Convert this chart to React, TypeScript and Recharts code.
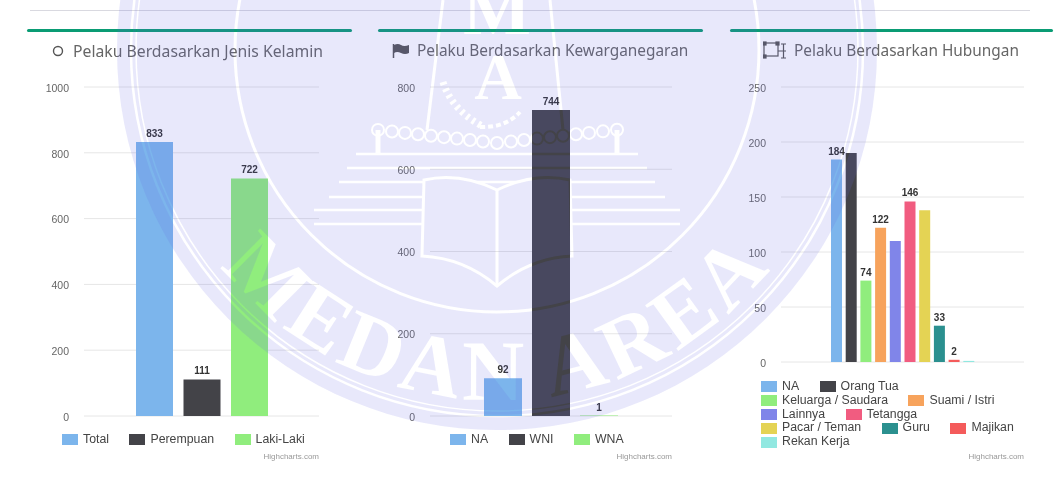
import React from 'react';
import { BarChart, Bar, XAxis, YAxis, CartesianGrid, Legend, LabelList } from 'recharts';

const genderNames = ['Total', 'Perempuan', 'Laki-Laki'];
const genderValues = [833, 111, 722];
const genderColors = ['#7cb5ec', '#434348', '#90ed7d'];
const genderTicks = [0, 200, 400, 600, 800, 1000];
const genderLegend = [['Total', 'Perempuan', 'Laki-Laki']];

const citizenNames = ['NA', 'WNI', 'WNA'];
const citizenValues = [92, 744, 1];
const citizenColors = ['#7cb5ec', '#434348', '#90ed7d'];
const citizenTicks = [0, 200, 400, 600, 800];
const citizenLegend = [['NA', 'WNI', 'WNA']];

const relationNames = ['NA', 'Orang Tua', 'Keluarga / Saudara', 'Suami / Istri', 'Lainnya', 'Tetangga', 'Pacar / Teman', 'Guru', 'Majikan', 'Rekan Kerja'];
const relationValues = [184, 190, 74, 122, 110, 146, 138, 33, 2, 1];
const relationColors = ['#7cb5ec', '#434348', '#90ed7d', '#f7a35c', '#8085e9', '#f15c80', '#e4d354', '#2b908f', '#f45b5b', '#91e8e1'];
const relationTicks = [0, 50, 100, 150, 200, 250];
// only these had room for a label in the original
const relationLabelled = ['NA', 'Keluarga / Saudara', 'Suami / Istri', 'Tetangga', 'Guru', 'Majikan'];
const relationLegend = [
  ['NA', 'Orang Tua'],
  ['Keluarga / Saudara', 'Suami / Istri'],
  ['Lainnya', 'Tetangga'],
  ['Pacar / Teman', 'Guru', 'Majikan'],
  ['Rekan Kerja'],
];

const makeRow = (names: string[], values: number[]) => {
  const row: Record<string, string | number> = { name: 'Pelaku' };
  names.forEach((n, i) => { row[n] = values[i]; });
  return [row];
};

const legendContent = (rows: string[][]) => (props: any) => (
  <div style={{ fontFamily: 'Liberation Sans', fontSize: 12.3, lineHeight: '13.8px', color: '#444' }}>
    {rows.map((row, r) => (
      <div key={r} style={{ display: 'flex', whiteSpace: 'nowrap' }}>
        {row.map((name) => {
          const entry = (props.payload || []).find((p: any) => p.value === name);
          return (
            <span key={name} style={{ display: 'flex', alignItems: 'center', marginRight: 20.5 }}>
              <span style={{ width: 16, height: 11, background: entry ? entry.color : '#ccc', marginRight: 5 }} />
              {name}
            </span>
          );
        })}
      </div>
    ))}
  </div>
);

type PanelProps = {
  left: number;
  width: number;
  yLeft: number;
  yRight: number;
  plotBottom: number;
  names: string[];
  values: number[];
  colors: string[];
  ticks: number[];
  labelled: string[];
  legendRows: string[][];
  legendLeft: number;
  legendTop: number;
  barSize: number;
  barGap: number;
  title: string;
  titleLeft: number;
  titleSize: number;
  icon: React.ReactNode;
};

const Panel = (p: PanelProps) => (
  <>
    <div style={{ position: 'absolute', left: p.left, top: 29, width: p.width, height: 3, borderRadius: 2, background: '#0a9c74' }} />
    <div style={{ position: 'absolute', left: p.titleLeft, top: 41, fontFamily: 'Noto Sans', fontSize: p.titleSize, lineHeight: '20px', color: '#666', whiteSpace: 'nowrap' }}>
      {p.title}
    </div>
    {p.icon}
    <div style={{ position: 'absolute', left: p.left, top: 60 }}>
      <BarChart
        width={p.width}
        height={410}
        data={makeRow(p.names, p.values)}
        margin={{ top: 27, right: p.yRight, bottom: 470 - p.plotBottom, left: 0 }}
        barSize={p.barSize}
        barGap={p.barGap}
      >
        <CartesianGrid vertical={false} stroke="#e6e6e6" />
        <XAxis dataKey="name" tick={false} tickLine={false} height={0} axisLine={{ stroke: '#ccd6eb' }} />
        <YAxis
          width={p.yLeft}
          domain={[0, p.ticks[p.ticks.length - 1]]}
          ticks={p.ticks}
          interval={0}
          axisLine={false}
          tickLine={false}
          tickSize={0}
          tickMargin={15}
          tick={{ fontSize: 10.5, fill: '#666', fontFamily: 'Liberation Sans', dy: 1 }}
        />
        <Legend
          verticalAlign="middle"
          content={legendContent(p.legendRows)}
          wrapperStyle={{ position: 'absolute', left: p.legendLeft, top: p.legendTop, width: p.width - p.legendLeft }}
        />
        {p.names.map((name, i) => (
          <Bar key={name} dataKey={name} name={name} fill={p.colors[i]} isAnimationActive={false}>
            {p.labelled.includes(name) && (
              <LabelList dataKey={name} position="top" offset={5} style={{ fontSize: 10, fontWeight: 700, fill: '#333', fontFamily: 'Liberation Sans' }} />
            )}
          </Bar>
        ))}
      </BarChart>
    </div>
    <div style={{ position: 'absolute', left: p.left + p.width - p.yRight - 80, width: 80, top: 452, textAlign: 'right', fontFamily: 'Liberation Sans', fontSize: 8, lineHeight: '10px', color: '#999' }}>
      Highcharts.com
    </div>
  </>
);

// the stamp laid over the scan: tinted disc, with everything in the mask's black left clear
const chainLinks = [378, 392, 405, 418, 431, 444, 457, 470, 483, 497, 511, 524, 537, 550, 563, 576, 589, 603, 617];
const stairs = [
  [356, 154, 638],
  [347, 168, 647],
  [339, 182, 655],
  [329, 197, 665],
  [314, 210, 680],
  [314, 224, 680],
];

const Watermark = () => (
  <svg width={1057} height={482} style={{ position: 'absolute', left: 0, top: 0, pointerEvents: 'none' }}>
    <defs>
      <path id="stampArc" d="M 147 50 A 350 350 0 0 0 847 50" fill="none" />
      <mask id="stampMask" maskUnits="userSpaceOnUse" x="0" y="0" width="1057" height="482">
        <circle cx={497} cy={50} r={380} fill="#fff" />
        <g fill="none" stroke="#000">
          <circle cx={497} cy={50} r={366} strokeWidth={2.5} />
          <circle cx={497} cy={50} r={361} strokeWidth={1.5} />
          <circle cx={497} cy={50} r={262} strokeWidth={3} />
          <path d="M443 0 L427 130 M550 0 L563 130" strokeWidth={3} />
          {stairs.map(([x0, y, x1]) => (
            <path key={y} d={`M${x0} ${y} H${x1}`} strokeWidth={2.5} />
          ))}
          {chainLinks.map((x) => (
            <circle key={x} cx={x} cy={143 - Math.abs(x - 497) * 0.11} r={6} strokeWidth={2} />
          ))}
          <path d="M443 82 Q452 110 482 126" strokeWidth={7} strokeDasharray="3 4" />
          <path d="M480 127 Q505 128 520 112" strokeWidth={4} strokeDasharray="5 3" />
          <path d="M378 130 V154 M617 130 V154" strokeWidth={5} />
          <path d="M424 180 Q460 172 497 190 Q534 172 570 180 L572 256 Q530 258 497 286 Q464 258 422 256 Z" fill="#fff" strokeWidth={3} />
          <path d="M497 190 V286" strokeWidth={3} />
        </g>
        <g fontFamily="Liberation Serif" fontWeight={700} fill="#000">
          <text x={497} y={34} textAnchor="middle" fontSize={72}>M</text>
          <text x={498} y={99} textAnchor="middle" fontSize={66}>A</text>
          <text fontSize={86} letterSpacing={5}>
            <textPath href="#stampArc" startOffset="50%" textAnchor="middle">MEDAN AREA</textPath>
          </text>
        </g>
      </mask>
    </defs>
    <rect x={0} y={0} width={1057} height={482} fill="rgb(100,100,230)" fillOpacity={0.15} mask="url(#stampMask)" />
  </svg>
);

const iconColor = '#555';

const RingIcon = (
  <svg width={14} height={14} style={{ position: 'absolute', left: 51, top: 44 }}>
    <circle cx={7} cy={7} r={4.5} fill="none" stroke={iconColor} strokeWidth={1.4} />
  </svg>
);
const FlagIcon = (
  <svg width={18} height={16} style={{ position: 'absolute', left: 392, top: 43 }}>
    <path d="M1.5 1 V15" stroke={iconColor} strokeWidth={1.5} />
    <path d="M2 2 Q6 0 9 2 T17 2 V10 Q13 12 9 10 T2 10 Z" fill={iconColor} />
  </svg>
);
const SitemapIcon = (
  <svg width={24} height={20} style={{ position: 'absolute', left: 763, top: 41 }} fill="none" stroke={iconColor} strokeWidth={1.2}>
    <rect x={1} y={2} width={14} height={13} />
    <rect x={0} y={1} width={3} height={3} fill={iconColor} />
    <rect x={13} y={1} width={3} height={3} fill={iconColor} />
    <rect x={0} y={14} width={3} height={3} fill={iconColor} />
    <path d="M18 3 H23 M20.5 3 V17 M18 17 H23 M15 10 H23" />
  </svg>
);

const App = () => (
  <div style={{ position: 'absolute', left: 0, top: 0, width: 1057, height: 482, overflow: 'hidden', background: '#fff', filter: 'blur(0.45px)' }}>
    <div style={{ position: 'absolute', left: 30, top: 10, width: 1000, height: 1, background: '#d9d9e0' }} />
    <Panel
      left={27}
      width={325}
      yLeft={57}
      yRight={33}
      plotBottom={416}
      names={genderNames}
      values={genderValues}
      colors={genderColors}
      ticks={genderTicks}
      labelled={genderNames}
      legendRows={genderLegend}
      legendLeft={35}
      legendTop={373}
      barSize={37}
      barGap={10.5}
      title="Pelaku Berdasarkan Jenis Kelamin"
      titleLeft={73}
      titleSize={15.75}
      icon={RingIcon}
    />
    <Panel
      left={378}
      width={325}
      yLeft={52}
      yRight={31}
      plotBottom={416}
      names={citizenNames}
      values={citizenValues}
      colors={citizenColors}
      ticks={citizenTicks}
      labelled={citizenNames}
      legendRows={citizenLegend}
      legendLeft={72}
      legendTop={373}
      barSize={38}
      barGap={10}
      title="Pelaku Berdasarkan Kewarganegaran"
      titleLeft={417}
      titleSize={15.4}
      icon={FlagIcon}
    />
    <Panel
      left={730}
      width={323}
      yLeft={51}
      yRight={29}
      plotBottom={362}
      names={relationNames}
      values={relationValues}
      colors={relationColors}
      ticks={relationTicks}
      labelled={relationLabelled}
      legendRows={relationLegend}
      legendLeft={31}
      legendTop={320}
      barSize={11}
      barGap={3.7}
      title="Pelaku Berdasarkan Hubungan"
      titleLeft={794}
      titleSize={15.4}
      icon={SitemapIcon}
    />
    <Watermark />
  </div>
);

export default App;
